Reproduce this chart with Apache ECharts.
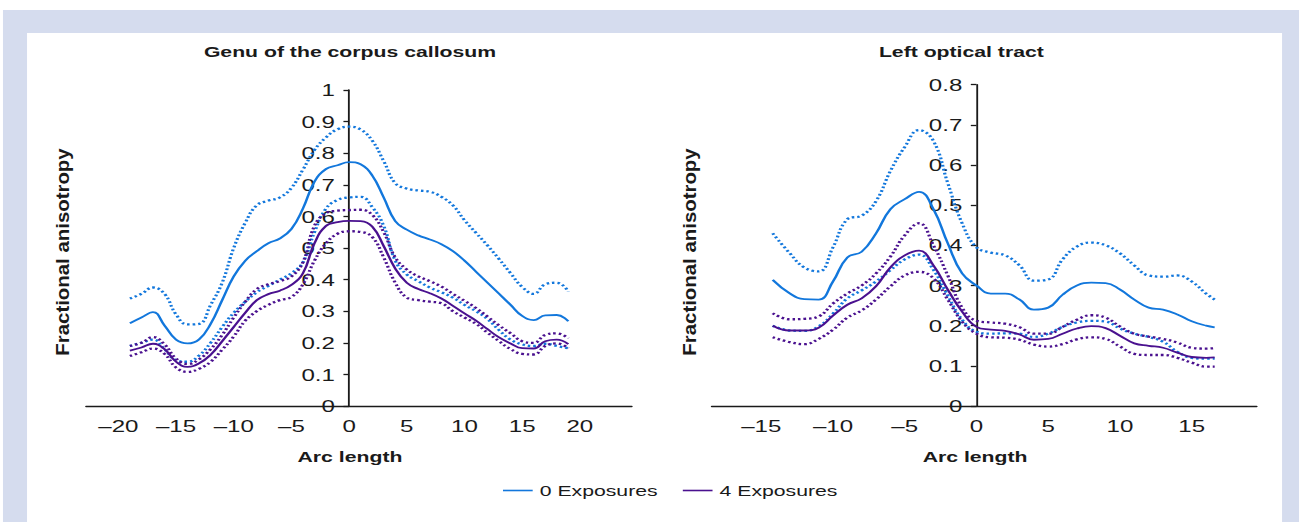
<!DOCTYPE html>
<html>
<head>
<meta charset="utf-8">
<script src="https://cdn.jsdelivr.net/npm/echarts@6/dist/echarts.min.js"></script>
<style>
html,body{margin:0;padding:0;background:#fff;overflow:hidden;}
#wrap{width:1302px;height:522px;overflow:hidden;position:relative;}
#chart{width:920px;height:522px;transform:scaleX(1.41522);transform-origin:0 0;}
</style>
</head>
<body>
<div id="wrap"><div id="chart"></div></div>
<script>
// ---------- Data: Genu of the corpus callosum ----------
const genuArc = [-19,-18,-17,-16,-15,-14,-13,-12,-11,-10,-9,-8,-7,-6,-5,-4,-3,-2,-1,0,1,2,3,4,5,6,7,8,9,10,11,12,13,14,15,16,17,18,19];
const genuMean0  = [0.262,0.28,0.297,0.255,0.21,0.198,0.211,0.26,0.335,0.41,0.46,0.49,0.515,0.53,0.56,0.625,0.71,0.75,0.762,0.772,0.765,0.73,0.66,0.585,0.558,0.54,0.527,0.512,0.49,0.46,0.425,0.39,0.355,0.32,0.285,0.272,0.287,0.288,0.268];
const genuUpper0 = [0.34,0.355,0.375,0.355,0.29,0.258,0.26,0.32,0.39,0.5,0.58,0.635,0.65,0.66,0.69,0.748,0.81,0.85,0.876,0.884,0.875,0.84,0.775,0.705,0.688,0.682,0.678,0.662,0.635,0.588,0.548,0.508,0.465,0.42,0.377,0.355,0.385,0.39,0.362];
const genuLower0 = [0.19,0.2,0.21,0.18,0.145,0.14,0.16,0.2,0.25,0.295,0.33,0.36,0.38,0.4,0.42,0.455,0.55,0.625,0.652,0.66,0.662,0.63,0.57,0.46,0.416,0.395,0.375,0.36,0.343,0.32,0.3,0.275,0.24,0.21,0.195,0.19,0.197,0.19,0.183];
const genuMean4  = [0.175,0.185,0.197,0.18,0.14,0.124,0.135,0.162,0.205,0.25,0.295,0.335,0.354,0.365,0.383,0.42,0.515,0.57,0.582,0.586,0.585,0.568,0.506,0.435,0.39,0.37,0.357,0.34,0.317,0.293,0.27,0.243,0.217,0.198,0.183,0.182,0.205,0.21,0.196];
const genuUpper4 = [0.19,0.2,0.218,0.195,0.15,0.133,0.148,0.18,0.225,0.28,0.33,0.37,0.385,0.395,0.41,0.455,0.57,0.61,0.618,0.62,0.621,0.605,0.55,0.47,0.432,0.41,0.395,0.378,0.355,0.333,0.31,0.283,0.255,0.23,0.205,0.2,0.225,0.23,0.214];
const genuLower4 = [0.158,0.17,0.182,0.165,0.122,0.108,0.118,0.14,0.178,0.22,0.27,0.3,0.32,0.335,0.345,0.385,0.46,0.515,0.545,0.553,0.551,0.535,0.47,0.39,0.343,0.335,0.33,0.325,0.3,0.28,0.26,0.232,0.205,0.18,0.165,0.163,0.19,0.198,0.183];

// ---------- Data: Left optical tract ----------
const opticArc = [-14.2,-13,-12,-11,-10,-9,-8,-7,-6,-5,-4,-3,-2,-1,0,1,2,3,4,5,6,7,8,9,10,11,12,13,14,15,16,16.6];
const opticMean0  = [0.314,0.28,0.266,0.265,0.31,0.37,0.384,0.43,0.49,0.515,0.533,0.49,0.405,0.33,0.3,0.28,0.28,0.265,0.24,0.245,0.277,0.3,0.307,0.306,0.29,0.265,0.245,0.24,0.228,0.211,0.2,0.196];
const opticUpper0 = [0.43,0.38,0.345,0.335,0.395,0.465,0.474,0.51,0.585,0.645,0.687,0.66,0.555,0.455,0.395,0.382,0.375,0.35,0.312,0.315,0.365,0.397,0.407,0.4,0.38,0.35,0.325,0.322,0.325,0.31,0.28,0.265];
const opticLower0 = [0.2,0.188,0.187,0.198,0.23,0.268,0.288,0.31,0.338,0.365,0.377,0.339,0.275,0.215,0.185,0.18,0.181,0.18,0.172,0.18,0.197,0.208,0.212,0.21,0.193,0.18,0.172,0.16,0.135,0.12,0.118,0.118];
const opticMean4  = [0.2,0.188,0.188,0.195,0.225,0.252,0.268,0.298,0.345,0.375,0.387,0.35,0.29,0.235,0.197,0.19,0.187,0.178,0.165,0.167,0.18,0.193,0.199,0.194,0.175,0.156,0.15,0.145,0.133,0.122,0.12,0.121];
const opticUpper4 = [0.231,0.216,0.217,0.223,0.255,0.28,0.3,0.33,0.372,0.425,0.455,0.4,0.325,0.245,0.212,0.208,0.205,0.196,0.18,0.18,0.197,0.215,0.226,0.22,0.198,0.18,0.173,0.167,0.158,0.145,0.143,0.144];
const opticLower4 = [0.171,0.159,0.154,0.167,0.19,0.22,0.238,0.265,0.298,0.325,0.334,0.318,0.265,0.21,0.18,0.171,0.17,0.165,0.153,0.148,0.154,0.166,0.171,0.167,0.148,0.13,0.127,0.127,0.12,0.108,0.098,0.098];

// ---------- Tick labels ----------
const genuXTicks  = [-20,-15,-10,-5,0,5,10,15,20];
const genuYTicks  = [0,0.1,0.2,0.3,0.4,0.5,0.6,0.7,0.8,0.9,1];
const opticXTicks = [-15,-10,-5,0,5,10,15];
const opticYTicks = [0,0.1,0.2,0.3,0.4,0.5,0.6,0.7,0.8];

const titles = ['Genu of the corpus callosum', 'Left optical tract'];
const legendNames = ['0 Exposures', '4 Exposures'];

const BLUE = '#1277dc';
const PURPLE = '#4a118f';
const INK = '#1a1a1a';
const FONT = '"Liberation Sans", Arial, sans-serif';
const SX = 1.41522; // horizontal stretch of the whole figure

const grids = [
  { left: 60.8, top: 90, width: 385.6, height: 316 },
  { left: 502.9, top: 84.7, width: 385.1, height: 321.3 }
];
const xRanges = [[-22.8, 24.5], [-18.45, 19.53]];

const pair = (xs, ys) => xs.map((x, i) => [x, ys[i]]);

function mkSeries(name, xs, ys, color, dotted, gi) {
  return {
    name: name,
    type: 'line',
    xAxisIndex: gi, yAxisIndex: gi,
    data: pair(xs, ys),
    smooth: 0.45,
    showSymbol: false,
    symbol: 'none',
    silent: true,
    z: dotted ? 3 : 4,
    lineStyle: dotted
      ? { color: color, width: 2.3, type: [1.8, 2.1], cap: 'butt' }
      : { color: color, width: 1.8 },
    itemStyle: { color: color }
  };
}

const dash = v => String(v).replace('-', '\u2013');
const yfmt = v => String(+(+v).toFixed(1));

function xAxisCfg(gi, ticks) {
  return {
    type: 'value', gridIndex: gi, min: xRanges[gi][0], max: xRanges[gi][1],
    axisLine: { show: true, onZero: false, lineStyle: { color: INK, width: 1.3 } },
    axisTick: { show: false },
    splitLine: { show: false },
    axisLabel: { customValues: ticks, formatter: dash, fontSize: 17, color: INK, fontFamily: FONT, margin: 11 }
  };
}
function yAxisCfg(gi, max, ticks) {
  // place the y axis where x = 0 on the x scale
  const r = xRanges[gi];
  const zeroShift = (0 - r[0]) / (r[1] - r[0]) * grids[gi].width;
  return {
    type: 'value', gridIndex: gi, min: 0, max: max,
    position: 'left', offset: -zeroShift,
    axisLine: { show: true, onZero: false, lineStyle: { color: INK, width: 1.3 } },
    axisTick: { show: true, customValues: ticks, length: 4, inside: false, lineStyle: { color: INK, width: 1.3 } },
    splitLine: { show: false },
    axisLabel: { customValues: ticks, formatter: yfmt, fontSize: 17, color: INK, fontFamily: FONT, margin: 10 }
  };
}

const chart = echarts.init(document.getElementById('chart'), null, { renderer: 'svg', width: 920, height: 522 });

const titleStyle = { fontSize: 15, fontWeight: 'bold', color: INK, fontFamily: FONT };

const option = {
  animation: false,
  backgroundColor: '#ffffff',
  graphic: { elements: [
    { type: 'rect', z: -100, silent: true, shape: { x: 2.1, y: 10, width: 915.8, height: 512 }, style: { fill: '#d5dcee' } },
    { type: 'rect', z: -99, silent: true, shape: { x: 19.1, y: 33, width: 886.8, height: 489 }, style: { fill: '#ffffff' } },
    { type: 'text', z: 10, silent: true, x: 44.5, y: 252, rotation: Math.PI / 2, scaleX: 1.36, scaleY: 0.85,
      style: { text: 'Fractional anisotropy', font: 'bold 15px ' + FONT, fill: INK, align: 'center', verticalAlign: 'middle' } },
    { type: 'text', z: 10, silent: true, x: 487.6, y: 252, rotation: Math.PI / 2, scaleX: 1.36, scaleY: 0.85,
      style: { text: 'Fractional anisotropy', font: 'bold 15px ' + FONT, fill: INK, align: 'center', verticalAlign: 'middle' } }
  ]},
  title: [
    { text: titles[0], left: 247.3, top: 44 },
    { text: titles[1], left: 679.3, top: 44 },
    { text: 'Arc length', left: 247.3, top: 449 },
    { text: 'Arc length', left: 689.0, top: 449 }
  ].map(t => Object.assign(t, { textAlign: 'center', padding: 0, textStyle: titleStyle })),
  legend: {
    data: legendNames,
    left: 355.4, top: 483,
    icon: 'rect', itemWidth: 21, itemHeight: 1.6, itemGap: 17.7,
    padding: 0,
    textStyle: { fontSize: 15, color: INK, fontFamily: FONT },
    selectedMode: false
  },
  grid: grids,
  xAxis: [ xAxisCfg(0, genuXTicks), xAxisCfg(1, opticXTicks) ],
  yAxis: [ yAxisCfg(0, 1, genuYTicks), yAxisCfg(1, 0.8, opticYTicks) ],
  series: [
    mkSeries('0 Exposures upper', genuArc, genuUpper0, BLUE, true, 0),
    mkSeries('0 Exposures lower', genuArc, genuLower0, BLUE, true, 0),
    mkSeries('4 Exposures upper', genuArc, genuUpper4, PURPLE, true, 0),
    mkSeries('4 Exposures lower', genuArc, genuLower4, PURPLE, true, 0),
    mkSeries(legendNames[0], genuArc, genuMean0, BLUE, false, 0),
    mkSeries(legendNames[1], genuArc, genuMean4, PURPLE, false, 0),
    mkSeries('0 Exposures upper', opticArc, opticUpper0, BLUE, true, 1),
    mkSeries('0 Exposures lower', opticArc, opticLower0, BLUE, true, 1),
    mkSeries('4 Exposures upper', opticArc, opticUpper4, PURPLE, true, 1),
    mkSeries('4 Exposures lower', opticArc, opticLower4, PURPLE, true, 1),
    mkSeries(legendNames[0], opticArc, opticMean0, BLUE, false, 1),
    mkSeries(legendNames[1], opticArc, opticMean4, PURPLE, false, 1)
  ]
};
chart.setOption(option);
</script>
</body>
</html>
